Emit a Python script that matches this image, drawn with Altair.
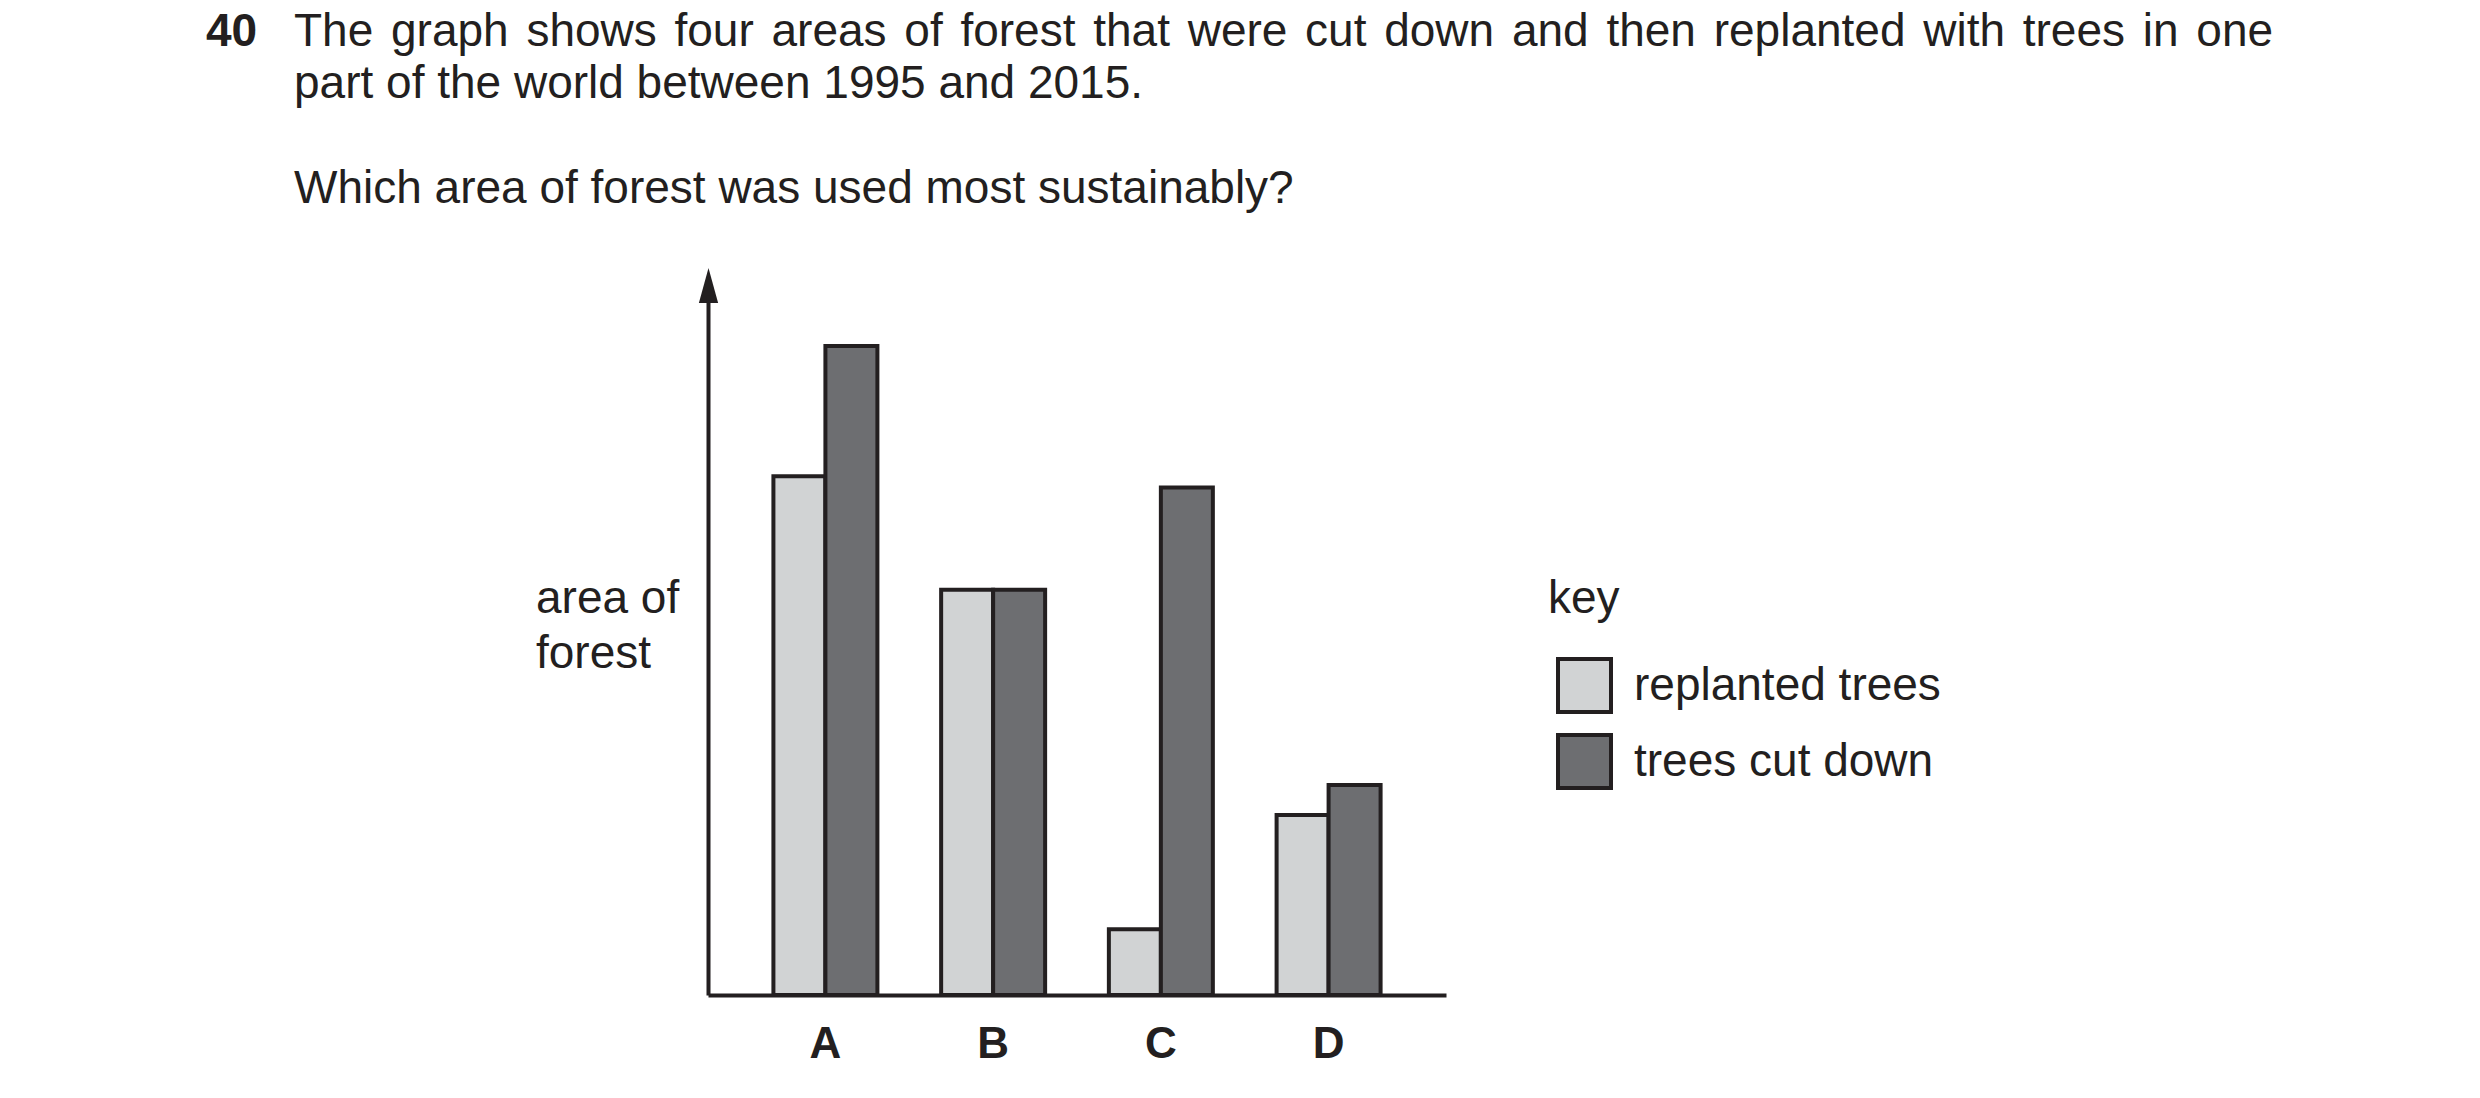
import altair as alt
import pandas as pd

# ---- data (arbitrary "area" units, axis has no scale) ----
areas = ["A", "B", "C", "D"]
replanted = [7.41, 5.79, 0.94, 2.57]
cut_down = [9.27, 5.79, 7.25, 3.00]
series = ["replanted trees", "trees cut down"]
fills = ["#d1d3d4", "#6d6e71"]

q_number = "40"
q_lines = [
    "The graph shows four areas of forest that were cut down and then replanted with trees in one",
    "part of the world between 1995 and 2015.",
    "Which area of forest was used most sustainably?",
]
y_title = ["area of", "forest"]
key_title = "key"

rows = []
for i, a in enumerate(areas):
    rows.append({"area": a, "series": series[0], "value": replanted[i]})
    rows.append({"area": a, "series": series[1], "value": cut_down[i]})
df = pd.DataFrame(rows)

INK = "#231f20"
FONT = "Liberation Sans"
FS = 46

# Arial / Liberation Sans advance widths (per 1000 em) used to justify the first line
ADV = {"T": 611, "h": 556, "e": 556, "g": 556, "r": 333, "a": 556, "p": 556, "s": 500,
       "o": 556, "w": 722, "f": 278, "u": 556, "t": 278, "c": 500, "d": 556, "n": 556,
       "l": 222, "i": 222, "y": 500}

bars = alt.Chart(df).mark_bar(stroke=INK, strokeWidth=4, strokeJoin="miter", opacity=1).encode(
    x=alt.X(
        "area:N",
        sort=areas,
        scale=alt.Scale(paddingInner=0.38, paddingOuter=0.39),
        axis=alt.Axis(
            title=None, labelAngle=0, labelFont=FONT, labelFontSize=44, labelFontWeight="bold",
            labelColor=INK, labelPadding=27, ticks=False, tickSize=0, domainColor=INK,
            domainWidth=4, grid=False, zindex=1,
        ),
    ),
    xOffset=alt.XOffset("series:N", sort=series, scale=alt.Scale(paddingInner=0, paddingOuter=0)),
    y=alt.Y(
        "value:Q",
        scale=alt.Scale(domain=[0, 10], nice=False, zero=True),
        axis=alt.Axis(title=None, labels=False, ticks=False, grid=False, domainColor=INK,
                      domainWidth=4, zindex=1),
    ),
    color=alt.Color(
        "series:N",
        sort=series,
        scale=alt.Scale(domain=series, range=fills),
        legend=alt.Legend(
            title=None, orient="none", legendX=848, legendY=362, symbolType="square",
            symbolSize=2809, symbolStrokeColor=INK, symbolStrokeWidth=4, symbolOpacity=1,
            labelFont=FONT, labelFontSize=46, labelColor=INK, labelOffset=21, labelLimit=600,
            rowPadding=7, padding=0,
        ),
    ),
)

arrow = alt.Chart(pd.DataFrame({"k": [0]})).mark_point(
    shape="M0,-1L0.55,1L-0.55,1Z", size=1225, filled=True, color=INK, opacity=1, strokeWidth=0
).encode(x=alt.value(0.5), y=alt.value(-9.5))


def text_layer(txt, x, y, size=FS, weight="normal"):
    return alt.Chart(pd.DataFrame({"t": [txt]})).mark_text(
        align="left", baseline="alphabetic", font=FONT, fontSize=size, fontWeight=weight, color=INK
    ).encode(text="t:N", x=alt.value(x), y=alt.value(y))


# justified first line: words spread between the left and right margins
LINE_X0, LINE_X1 = -414, 1565
words = q_lines[0].split(" ")
word_w = [sum(ADV.get(ch, 556) for ch in w) * FS / 1000 for w in words]
gap = (LINE_X1 - LINE_X0 - sum(word_w)) / (len(words) - 1)
line1 = []
cx = LINE_X0
for w, ww in zip(words, word_w):
    line1.append(text_layer(w, round(cx, 1), -249))
    cx += ww + gap

texts = [
    text_layer(q_number, -502, -249, weight="bold"),
    *line1,
    text_layer(q_lines[1], -414, -197),
    text_layer(q_lines[2], -414, -92),
    text_layer(y_title[0], -172, 318),
    text_layer(y_title[1], -172, 373),
    text_layer(key_title, 840, 318),
]

chart = alt.layer(bars, arrow, *texts).properties(
    width=738,
    height=700,
    padding={"left": 700, "top": 287, "right": 1026, "bottom": 95},
    autosize=alt.AutoSizeParams(type="none"),
    background="white",
).configure_view(stroke=None)

chart.save("out.html", embed_options={"renderer": "svg", "actions": False})
